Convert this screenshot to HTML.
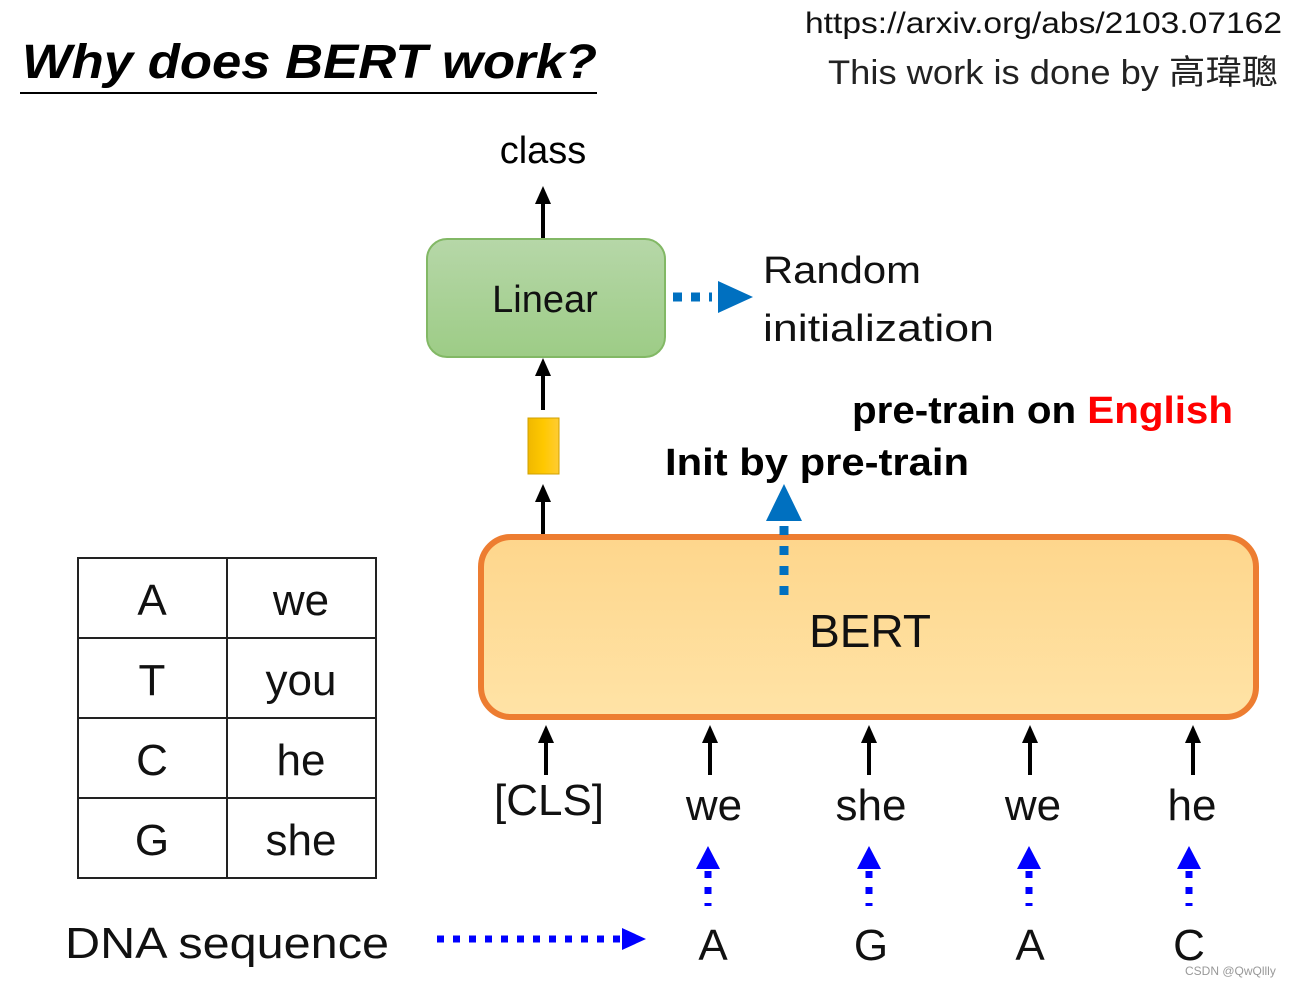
<!DOCTYPE html>
<html><head><meta charset="utf-8"><style>
html,body{margin:0;padding:0;background:#fff}
svg{display:block}
text{font-family:"Liberation Sans","Noto Sans CJK TC",sans-serif}
</style></head><body>
<svg width="1290" height="987" viewBox="0 0 1290 987" xmlns="http://www.w3.org/2000/svg">
<defs>
<linearGradient id="g" x1="0" y1="0" x2="0" y2="1"><stop offset="0" stop-color="#b6d7a8"/><stop offset="1" stop-color="#9dcc86"/></linearGradient>
<linearGradient id="o" x1="0" y1="0" x2="0" y2="1"><stop offset="0" stop-color="#fed68c"/><stop offset="1" stop-color="#ffe3a6"/></linearGradient>
<linearGradient id="y" x1="0" y1="0" x2="1" y2="0"><stop offset="0" stop-color="#f0b800"/><stop offset="0.5" stop-color="#ffc800"/><stop offset="1" stop-color="#ffcc33"/></linearGradient>
</defs>
<text x="22" y="78" font-size="48" font-weight="bold" font-style="italic" textLength="575" lengthAdjust="spacingAndGlyphs">Why does BERT work?</text>
<rect x="20" y="92" width="577" height="2" fill="#000"/>
<text x="805" y="33" font-size="30" fill="#111" textLength="477" lengthAdjust="spacingAndGlyphs">https://arxiv.org/abs/2103.07162</text>
<text x="828" y="84" font-size="34" fill="#222" textLength="450" lengthAdjust="spacingAndGlyphs">This work is done by 高瑋聰</text>

<text x="543" y="163" font-size="38" text-anchor="middle">class</text>
<g stroke="#000" stroke-width="4">
<line x1="543" y1="238" x2="543" y2="200"/>
<line x1="543" y1="410" x2="543" y2="372"/>
<line x1="543" y1="537" x2="543" y2="498"/>
<line x1="546" y1="775" x2="546" y2="740"/>
<line x1="710" y1="775" x2="710" y2="740"/>
<line x1="869" y1="775" x2="869" y2="740"/>
<line x1="1030" y1="775" x2="1030" y2="740"/>
<line x1="1193" y1="775" x2="1193" y2="740"/>
</g>
<g fill="#000">
<polygon points="543,186 535,204 551,204"/>
<polygon points="543,358 535,376 551,376"/>
<polygon points="543,484 535,502 551,502"/>
<polygon points="546,725 538,743 554,743"/>
<polygon points="710,725 702,743 718,743"/>
<polygon points="869,725 861,743 877,743"/>
<polygon points="1030,725 1022,743 1038,743"/>
<polygon points="1193,725 1185,743 1201,743"/>
</g>

<rect x="427" y="239" width="238" height="118" rx="20" fill="url(#g)" stroke="#82b865" stroke-width="2"/>
<text x="545" y="312" font-size="38" text-anchor="middle" fill="#111">Linear</text>
<line x1="673" y1="297" x2="712" y2="297" stroke="#0070c0" stroke-width="9" stroke-dasharray="9,9"/>
<polygon points="718,281 753,297 718,313" fill="#0070c0"/>
<text x="763" y="283" font-size="38" fill="#111" textLength="158" lengthAdjust="spacingAndGlyphs">Random</text>
<text x="763" y="341" font-size="38" fill="#111" textLength="231" lengthAdjust="spacingAndGlyphs">initialization</text>

<rect x="528" y="418" width="31" height="56" fill="url(#y)" stroke="#d0a000" stroke-width="1"/>

<text x="852" y="423" font-size="38" font-weight="bold" textLength="381" lengthAdjust="spacingAndGlyphs">pre-train on <tspan fill="#ff0000">English</tspan></text>
<text x="665" y="475" font-size="38" font-weight="bold" textLength="304" lengthAdjust="spacingAndGlyphs">Init by pre-train</text>

<rect x="481" y="537" width="775" height="180" rx="30" fill="url(#o)" stroke="#ed7d31" stroke-width="6"/>
<text x="870" y="647" font-size="46" text-anchor="middle" fill="#111">BERT</text>
<line x1="784" y1="526" x2="784" y2="596" stroke="#0070c0" stroke-width="9" stroke-dasharray="9,11"/>
<polygon points="784,484 766,521 802,521" fill="#0070c0"/>

<g font-size="44" text-anchor="middle" fill="#111">
<text x="549" y="815">[CLS]</text>
<text x="714" y="820">we</text>
<text x="871" y="820">she</text>
<text x="1033" y="820">we</text>
<text x="1192" y="820">he</text>
<text x="713" y="960">A</text>
<text x="871" y="960">G</text>
<text x="1030" y="960">A</text>
<text x="1189" y="960">C</text>
</g>
<g stroke="#0000ff" stroke-width="7" stroke-dasharray="7,9">
<line x1="708" y1="871" x2="708" y2="906"/>
<line x1="869" y1="871" x2="869" y2="906"/>
<line x1="1029" y1="871" x2="1029" y2="906"/>
<line x1="1189" y1="871" x2="1189" y2="906"/>
<line x1="437" y1="939" x2="622" y2="939"/>
</g>
<g fill="#0000ff">
<polygon points="708,846 696,869 720,869"/>
<polygon points="869,846 857,869 881,869"/>
<polygon points="1029,846 1017,869 1041,869"/>
<polygon points="1189,846 1177,869 1201,869"/>
<polygon points="622,928 646,939 622,950"/>
</g>
<text x="65" y="958" font-size="44" fill="#111" textLength="324" lengthAdjust="spacingAndGlyphs">DNA sequence</text>

<g stroke="#222" stroke-width="2" fill="none">
<rect x="78" y="558" width="298" height="320"/>
<line x1="227" y1="558" x2="227" y2="878"/>
<line x1="78" y1="638" x2="376" y2="638"/>
<line x1="78" y1="718" x2="376" y2="718"/>
<line x1="78" y1="798" x2="376" y2="798"/>
</g>
<g font-size="44" text-anchor="middle" fill="#111">
<text x="152" y="615">A</text><text x="301" y="615">we</text>
<text x="152" y="695">T</text><text x="301" y="695">you</text>
<text x="152" y="775">C</text><text x="301" y="775">he</text>
<text x="152" y="855">G</text><text x="301" y="855">she</text>
</g>
<text x="1185" y="975" font-size="12" fill="#999">CSDN @QwQllly</text>
</svg>
</body></html>
